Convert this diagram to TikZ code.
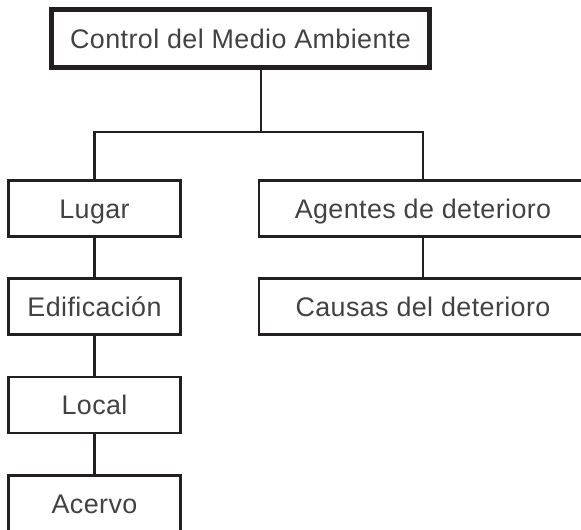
\documentclass[tikz,border=0pt]{standalone}
\usepackage{fontspec}
\setmainfont{Liberation Sans}[LetterSpace=1.5]
\usetikzlibrary{positioning}
\definecolor{tinta}{HTML}{231F20}
\tikzstyle{caja} = [draw=tinta, line width=1.5pt, minimum width=3.446cm, minimum height=1.126cm, inner sep=0pt, text=tinta!85, font=\fontsize{15.3}{18}\selectfont, text height=11pt, text depth=0pt]
\tikzstyle{cajaancha} = [caja, minimum width=6.56cm]
\tikzstyle{titulo} = [caja, line width=3.1pt, minimum width=7.55cm, minimum height=1.15cm]
\tikzstyle{linea} = [draw=tinta, line width=1.5pt]

\begin{document}
\begin{tikzpicture}
      \useasboundingbox (0,0) rectangle (11.62,-10.58);
      \node[titulo] (ctrl) at (4.81,-0.77) {Control del Medio Ambiente};
      \node[caja] (lugar) at (1.89,-4.17) {Lugar};
      \node[caja] (edif) at (1.89,-6.13) {Edificación};
      \node[caja] (local) at (1.89,-8.10) {Local};
      \node[caja] (acervo) at (1.89,-10.07) {Acervo};
      \node[cajaancha] (agentes) at (8.46,-4.17) {Agentes de deterioro};
      \node[cajaancha] (causas) at (8.46,-6.13) {Causas del deterioro};
      \coordinate (rama) at (5.22,-2.64);
      \draw[linea] (ctrl.south -| rama)--(rama);
      \draw[linea] (lugar.north) |- (rama) -| (agentes.north);
      \draw[linea] (lugar.south)--(edif.north);
      \draw[linea] (edif.south)--(local.north);
      \draw[linea] (local.south)--(acervo.north);
      \draw[linea] (agentes.south)--(causas.north);
\end{tikzpicture}
\end{document}
